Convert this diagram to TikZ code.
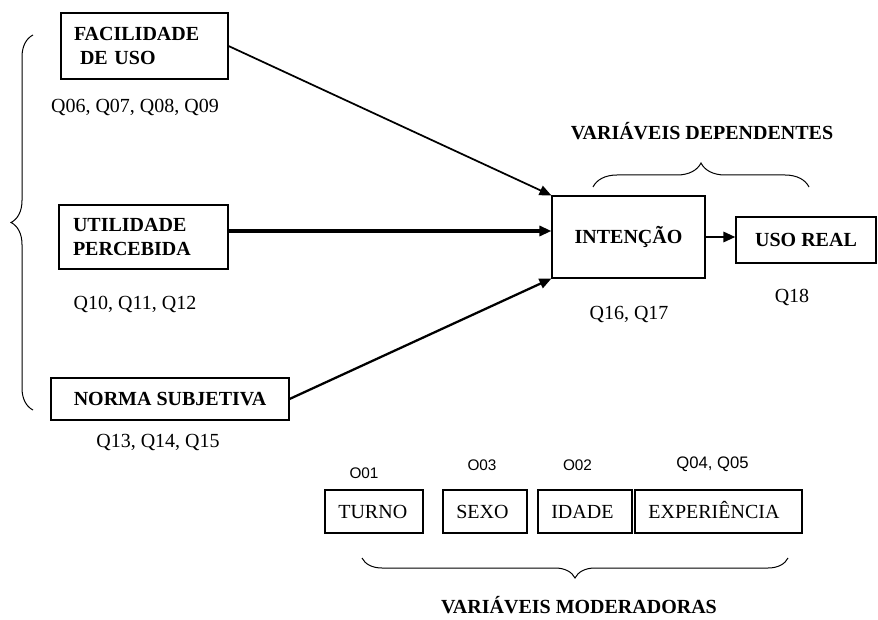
\documentclass[tikz,border=0pt]{standalone}
\usepackage{fontspec}
\setmainfont{Liberation Serif}
\setsansfont{Liberation Sans}
\usetikzlibrary{arrows.meta,decorations.pathreplacing}
\begin{document}
\begin{tikzpicture}[
  x=0.75pt, y=-0.75pt,
  cbox/.style={draw, line width=0.8pt, inner sep=0pt, align=left,
    font=\fontsize{15}{17.5}\selectfont\bfseries},
  mbox/.style={draw, line width=0.8pt, inner sep=0pt, minimum height=32.25pt,
    minimum width=#1, text width=#1-20pt, align=left,
    text height=10.5pt, text depth=0pt, font=\fontsize{15}{17}\selectfont},
  qlabel/.style={anchor=base, inner sep=0pt, font=\fontsize{15}{17}\selectfont},
  olabel/.style={anchor=base, inner sep=0pt, font=\sffamily\fontsize{11.5}{13}\selectfont},
  title/.style={anchor=base, inner sep=0pt, font=\fontsize{15}{17}\selectfont\bfseries},
  seta/.style={-{Triangle[length=9pt,width=7.5pt]}},
  chave/.style={decorate, decoration={brace, amplitude=#1}, line width=0.75pt}
]
  \useasboundingbox (0,0) rectangle (878,620);

  % variaveis independentes
  \node[cbox, minimum width=125.25pt, minimum height=49.5pt, text width=105.75pt]
    (fac) at (144.5,46) {FACILIDADE\\\hspace{4.5pt}DE USO};
  \node[qlabel] (qfac) at (135,113) {Q06, Q07, Q08, Q09};

  \node[cbox, minimum width=126.75pt, minimum height=48pt, text width=105.75pt]
    (uti) at (143.5,237) {UTILIDADE\\PERCEBIDA};
  \node[qlabel] (quti) at (135,310) {Q10, Q11, Q12};

  \node[cbox, minimum width=178.5pt, minimum height=31.5pt, align=center]
    (nor) at (170,399) {NORMA SUBJETIVA};
  \node[qlabel] (qnor) at (158,447) {Q13, Q14, Q15};

  \draw[chave=16.5pt] (33,410) -- (33,35);

  % variaveis dependentes
  \node[cbox, minimum width=114.75pt, minimum height=61.5pt, align=center]
    (int) at (628.5,237) {INTENÇÃO};
  \node[qlabel] (qint) at (629,320) {Q16, Q17};

  \node[cbox, minimum width=105pt, minimum height=34.5pt, align=center]
    (uso) at (806,240) {USO REAL};
  \node[qlabel] (quso) at (792,302) {Q18};

  \draw[chave=18pt] (593,187) -- (809,187);
  \node[title] (tdep) at (702,140) {VARIÁVEIS DEPENDENTES};

  \draw[seta, line width=1.3pt] (fac.east) -- (int.north west);
  \draw[seta, line width=2.4pt] ([yshift=4.5pt]uti.east) -- ([yshift=4.5pt]int.west);
  \draw[seta, line width=1.7pt] (nor.east) -- (int.south west);
  \draw[seta, line width=2.1pt] (int.east) -- (int.east -| uso.west);

  % variaveis moderadoras
  \node[mbox=73.5pt] (tur) at (374,511.5) {TURNO};
  \node[mbox=63pt] (sex) at (485,511.5) {SEXO};
  \node[mbox=70.5pt] (ida) at (585,511.5) {IDADE};
  \node[mbox=125.25pt] (exp) at (718.5,511.5) {EXPERIÊNCIA};

  \node[olabel] (otur) at (364,478) {O01};
  \node[olabel] (osex) at (482,470) {O03};
  \node[olabel] (oida) at (577.5,470) {O02};
  \node[olabel, font=\sffamily\fontsize{12.5}{14}\selectfont] (oexp) at (712.5,468) {Q04, Q05};

  \draw[chave=15pt] (788,558) -- (362,558);
  \node[title] (tmod) at (579,613) {VARIÁVEIS MODERADORAS};
\end{tikzpicture}
\end{document}
